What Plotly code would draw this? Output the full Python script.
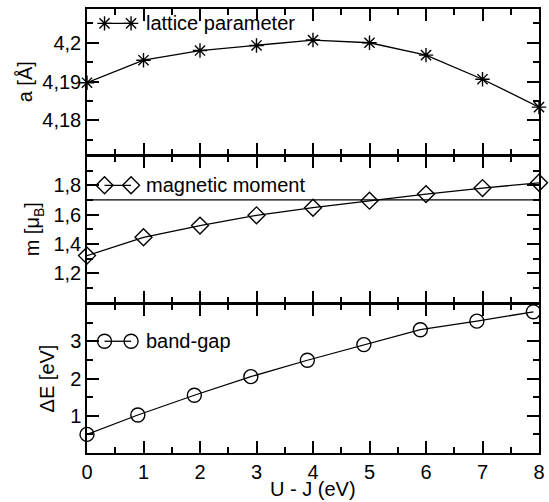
import plotly.graph_objects as go

# U - J values (eV) for each computed point
u_minus_j = [0, 1, 2, 3, 4, 5, 6, 7, 8]
u_minus_j_gap = [0, 0.9, 1.9, 2.9, 3.9, 4.9, 5.9, 6.9, 7.9]

# Computed quantities
lattice_a = [4.1897, 4.1955, 4.1980, 4.1993, 4.2007, 4.2000, 4.1968, 4.1906, 4.1834]
magnetic_m = [1.320, 1.445, 1.525, 1.595, 1.647, 1.695, 1.740, 1.781, 1.817]
band_gap = [0.50, 1.02, 1.55, 2.05, 2.49, 2.91, 3.31, 3.54, 3.79]

# Reference level drawn across the magnetic-moment panel
m_ref_level = 1.7

# Tick labels
x_ticks = [0, 1, 2, 3, 4, 5, 6, 7, 8]
a_ticks = [4.18, 4.19, 4.20]
a_ticktext = ["4,18", "4,19", "4,2"]
m_ticks = [1.2, 1.4, 1.6, 1.8]
m_ticktext = ["1,2", "1,4", "1,6", "1,8"]
e_ticks = [1, 2, 3]
e_ticktext = ["1", "2", "3"]

# Legend key placement (x in eV) inside each panel
legend_key_x = [0.31, 0.78]
legend_text_x = 1.0

FONT = "Liberation Sans, Arial, Helvetica, sans-serif"
TICK_FONT = dict(family=FONT, size=20, color="black")
LINE = dict(color="black", width=1.3)

fig = go.Figure()

# (x axis, y axis, values, x positions, symbol, size, label, legend row)
panels = [
    ("x3", "y3", lattice_a, u_minus_j, "asterisk-open", 12, "lattice parameter", 4.205),
    ("x2", "y2", magnetic_m, u_minus_j, "diamond-open", 13, "magnetic moment", 1.8),
    ("x", "y", band_gap, u_minus_j_gap, "circle-open", 14, "band-gap", 3.0),
]

for xref, yref, vals, xs, sym, size, label, ly in panels:
    marker = dict(symbol=sym, size=size, color="black", line=dict(color="black", width=1.4))
    fig.add_trace(go.Scatter(
        x=xs, y=vals, mode="lines+markers", xaxis=xref, yaxis=yref,
        line=LINE, marker=marker, cliponaxis=False, showlegend=False,
    ))
    # legend key
    fig.add_trace(go.Scatter(
        x=legend_key_x, y=[ly, ly], mode="lines+markers", xaxis=xref, yaxis=yref,
        line=LINE, marker=marker, showlegend=False, hoverinfo="skip",
    ))
    fig.add_annotation(
        x=legend_text_x, y=ly, xref=xref, yref=yref, text=label, showarrow=False,
        xanchor="left", yanchor="middle", font=dict(family=FONT, size=20, color="black"),
    )

fig.add_shape(type="line", xref="x2 domain", yref="y2", x0=0, x1=1,
              y0=m_ref_level, y1=m_ref_level, line=dict(color="black", width=1.3))

LW = 1.5
axis_common = dict(
    showline=True, linecolor="black", linewidth=LW, mirror="ticks",
    ticks="inside", ticklen=12, tickwidth=1.5, tickcolor="black",
    showgrid=False, zeroline=False, tickfont=TICK_FONT,
)
minor_x = dict(ticks="inside", ticklen=6, tickcolor="black", tickwidth=1.5, dtick=0.5, tick0=0)

# panel heights in pixels; neighbouring panels are spaced by one line width so
# their shared border lines fall on top of each other
h = 444.0
d_bottom = [0, 149 / h]
d_mid = [(149 + LW) / h, 297 / h]
d_top = [(297 + LW) / h, 1]

fig.update_layout(
    width=549, height=502,
    margin=dict(l=87, r=4, t=9, b=49),
    paper_bgcolor="white", plot_bgcolor="white",
    font=dict(family=FONT, color="black"),
    xaxis=dict(**axis_common, range=[0, 8], tickvals=x_ticks, anchor="y", minor=minor_x),
    xaxis2=dict(
        **axis_common, range=[0, 8], tickvals=x_ticks, anchor="y2", matches="x",
        showticklabels=False, minor=minor_x,
    ),
    xaxis3=dict(
        **axis_common, range=[0, 8], tickvals=x_ticks, anchor="y3", matches="x",
        showticklabels=False, minor=minor_x,
    ),
    yaxis=dict(
        **axis_common, domain=d_bottom, range=[0, 4], anchor="x",
        tickvals=e_ticks, ticktext=e_ticktext,
        minor=dict(ticks="inside", ticklen=6, tickcolor="black", tickwidth=1.5,
                   tickvals=[0.5, 1.5, 2.5, 3.5]),
        title=dict(text="ΔE [eV]", font=dict(family=FONT, size=20), standoff=10),
    ),
    yaxis2=dict(
        **axis_common, domain=d_mid, range=[1.0, 2.0], anchor="x2",
        tickvals=m_ticks, ticktext=m_ticktext,
        minor=dict(ticks="inside", ticklen=6, tickcolor="black", tickwidth=1.5,
                   tickvals=[1.1, 1.3, 1.5, 1.7, 1.9]),
        title=dict(text="m [μ<sub>B</sub>]", font=dict(family=FONT, size=20), standoff=8),
    ),
    yaxis3=dict(
        **axis_common, domain=d_top, range=[4.1712, 4.2087], anchor="x3",
        tickvals=a_ticks, ticktext=a_ticktext,
        minor=dict(ticks="inside", ticklen=6, tickcolor="black", tickwidth=1.5,
                   tickvals=[4.175, 4.185, 4.195, 4.205]),
        title=dict(text="a [Å]", font=dict(family=FONT, size=20), standoff=4),
    ),
)

# x-axis title, set close under the tick labels
fig.add_annotation(
    text="U - J (eV)", xref="x domain", yref="paper", x=0.5, y=-35.5 / h,
    xanchor="center", yanchor="middle", showarrow=False,
    font=dict(family=FONT, size=20, color="black"),
)

fig.write_html("out.html")
